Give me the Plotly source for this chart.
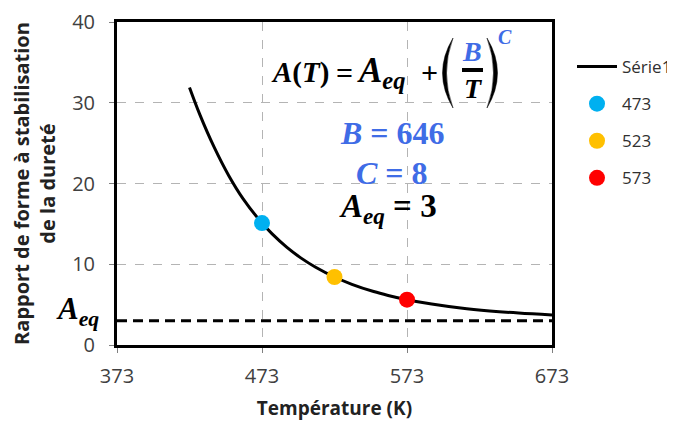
import plotly.graph_objects as go

# ---- data ----
curve_T = [423, 430, 440, 450, 460, 473, 480, 490, 500, 510, 523, 535, 550, 560, 573, 590, 610, 630, 650, 673]
curve_A = [31.9, 28.6, 24.5, 21.0, 18.1, 15.10, 13.76, 12.12, 10.76, 9.63, 8.42, 7.52, 6.62, 6.14, 5.61, 5.07, 4.58, 4.22, 3.95, 3.72]
point_names = ["473", "523", "573"]
point_T = [473, 523, 573]
point_A = [15.10, 8.42, 5.61]
point_colors = ["#00B0F0", "#FFC000", "#FF0000"]
aeq_T = [373, 673]
aeq_A = [3, 3]
x_ticks = [373, 473, 573, 673]
y_ticks = [0, 10, 20, 30, 40]

# ---- layout geometry (screen pixels; page body adds an 8px margin) ----
PAGE_W, PAGE_H, OFF = 675, 426, 8
W, H = PAGE_W - OFF, PAGE_H - OFF
L, R, T, B = 117, 552, 22, 345

def px(x):
    return (x - L) / (R - L)

def py(y):
    return (B - y) / (B - T)

fig = go.Figure()
fig.add_trace(go.Scatter(x=curve_T, y=curve_A, mode="lines", name="Série1",
                         line=dict(color="black", width=3, shape="spline"),
                         legendgroup="g0"))
for i, nm in enumerate(point_names):
    fig.add_trace(go.Scatter(x=[point_T[i]], y=[point_A[i]], mode="markers", name=nm,
                             marker=dict(color=point_colors[i], size=16),
                             legendgroup="g%d" % (i + 1)))
fig.add_trace(go.Scatter(x=aeq_T, y=aeq_A, mode="lines", showlegend=False,
                         line=dict(color="black", width=3, dash="10px,6px")))

serif = "Liberation Serif"
blue = "#3F6CE6"
ann = []

def add(text, x, y, size, color="black", family=serif, xanchor="center"):
    ann.append(dict(text=text, x=px(x), y=py(y), xref="paper", yref="paper",
                    showarrow=False, xanchor=xanchor, yanchor="middle",
                    font=dict(family=family, size=size, color=color)))

S = "&nbsp;"
add("<b><i>A</i>(<i>T</i>)</b>", 269, 72, 29, xanchor="left")
add("<b>=</b>", 344, 72, 30)
add("<b><i>A<sub>eq</sub></i></b>", 355, 72, 35, xanchor="left")
add("<b>+</b>", 429, 72, 30)
add("<b><i>B</i></b>", 472, 51, 28, color=blue)
add("<b><i>T</i></b>", 473, 89, 28)
add("<b><i>C</i></b>", 505, 37, 20, color=blue)
add("<b><i>B</i>" + S + "=" + S + "646</b>", 392, 133, 32, color=blue)
add("<b><i>C</i>" + S + "=" + S + "8</b>", 392, 173, 32, color=blue)
add("<b><i>A<sub>eq</sub></i>" + S + "=" + S + "3</b>", 388, 208, 33)
add("<b><i>A<sub>eq</sub></i></b>", 77, 311, 31)

def paren(xe, xc_out, xc_in, y0, y1):
    ym = (y0 + y1) / 2
    return ("M %f,%f Q %f,%f %f,%f Q %f,%f %f,%f Z" % (
        px(xe), py(y0), px(xc_out), py(ym), px(xe), py(y1),
        px(xc_in), py(ym), px(xe), py(y0)))

shapes = [
    dict(type="line", xref="paper", yref="paper",
         x0=px(462), x1=px(483), y0=py(70), y1=py(70),
         line=dict(color="black", width=4)),
    dict(type="path", xref="paper", yref="paper", path=paren(453, 432, 440, 38, 108),
         fillcolor="black", line=dict(color="black", width=0.5)),
    dict(type="path", xref="paper", yref="paper", path=paren(487, 508, 500, 38, 108),
         fillcolor="black", line=dict(color="black", width=0.5)),
]

sans = "Open Sans"
fig.update_layout(
    width=W, height=H,
    margin=dict(l=L - OFF, r=PAGE_W - R, t=T - OFF, b=PAGE_H - B, autoexpand=False),
    paper_bgcolor="white", plot_bgcolor="white",
    font=dict(family=sans, size=20, color="#404040"),
    annotations=ann,
    shapes=shapes,
    legend=dict(x=px(572), y=py(49), xanchor="left", yanchor="top",
                font=dict(family=sans, size=17, color="#303030"),
                traceorder="grouped", tracegroupgap=12,
                bgcolor="rgba(0,0,0,0)", itemwidth=40),
    showlegend=True,
)
fig.update_xaxes(range=[373, 673], tickvals=x_ticks, ticktext=[str(v) for v in x_ticks],
                 showline=True, linewidth=3, linecolor="black", mirror=True,
                 showgrid=True, gridcolor="#b4b4b4", griddash="dash", gridwidth=1,
                 ticks="outside", ticklen=5, tickcolor="#808080",
                 ticklabelstandoff=6, zeroline=False, automargin=False,
                 title=dict(text="<b>Température (K)</b>", standoff=14,
                            font=dict(family=sans, size=19, color="#222")))
fig.update_yaxes(range=[0, 40], tickvals=y_ticks,
                 showline=True, linewidth=3, linecolor="black", mirror=True,
                 showgrid=True, gridcolor="#b4b4b4", griddash="dash", gridwidth=1,
                 ticks="outside", ticklen=5, tickcolor="#808080",
                 ticklabelstandoff=10, zeroline=False, automargin=False,
                 title=dict(text="<b>Rapport de forme à stabilisation<br>de la dureté</b>",
                            standoff=18,
                            font=dict(family=sans, size=20, color="#222")))

fig.write_html("out.html")
